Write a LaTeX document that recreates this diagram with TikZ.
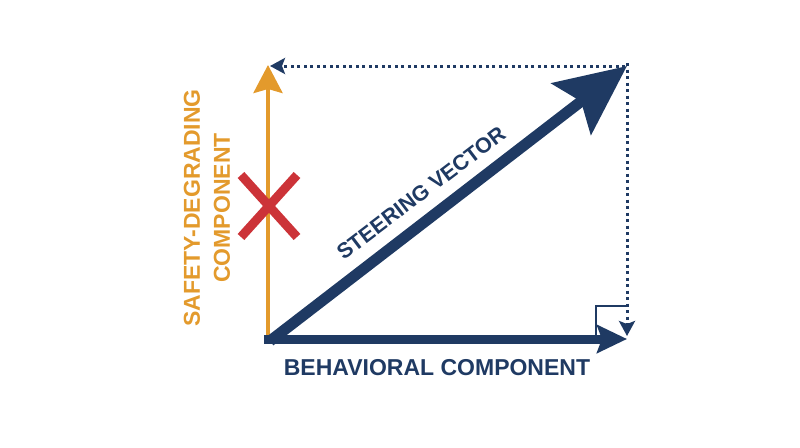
\documentclass[tikz,border=0pt]{standalone}
\usepackage{fontspec}
\setmainfont{Liberation Sans}
\usetikzlibrary{arrows.meta}
\definecolor{navy}{HTML}{1F3A63}
\definecolor{safeorange}{HTML}{E39A2C}
\definecolor{crossred}{HTML}{CC3338}
\tikzset{
  projline/.style={navy, line width=3pt, dash pattern=on 3pt off 3.5pt,
    -{Stealth[length=15pt,width=16pt,inset=3pt]}},
  steerarrow/.style={navy, line width=11pt,
    -{Stealth[length=70pt,width=64pt,inset=12pt]}},
  behavarrow/.style={navy, line width=9pt,
    -{Stealth[length=30pt,width=28pt,inset=5pt]}},
  safearrow/.style={safeorange, line width=4pt,
    -{Stealth[length=28pt,width=29pt,inset=4pt]}},
  biglabel/.style={font=\bfseries\fontsize{23}{30}\selectfont, inner sep=0pt}
}
\begin{document}
\begin{tikzpicture}[x=1pt, y=-1pt]
      \useasboundingbox (0,0) rectangle (800,447);

      \coordinate (origin) at (268,339);
      \coordinate (htip) at (627,339);
      \coordinate (vtip) at (268,65);
      \coordinate (stip) at (627,66);
      \coordinate (corner) at (596,306);

      % dotted projections
      \draw[projline] ([xshift=-2pt]stip) -- (270,66) coordinate (ptop);
      \draw[projline] ([yshift=3pt]stip) -- (627,336) coordinate (pright);

      % right angle mark
      \draw[navy, line width=1.5pt] (corner |- htip) -- (corner) -- (corner -| htip);

      % components
      \draw[safearrow] (origin) -- (vtip);
      \draw[crossred, line width=9pt] (241,175) -- (297,237);
      \draw[crossred, line width=9pt] (297,175) -- (241,237);
      \draw[behavarrow] ([xshift=-4pt]origin) -- (htip);
      \draw[steerarrow] ([shift={(2pt,-2pt)}]origin) -- (stip);

      % labels
      \node[biglabel, navy] (behav) at (437,368) {BEHAVIORAL COMPONENT};
      \node[biglabel, safeorange, rotate=90, align=center] (safe) at (207,208)
        {SAFETY-DEGRADING\\COMPONENT};
      \node[biglabel, navy, rotate=37.2, font=\bfseries\fontsize{21.5}{26}\selectfont]
        (steer) at (421,193) {STEERING VECTOR};
\end{tikzpicture}
\end{document}
